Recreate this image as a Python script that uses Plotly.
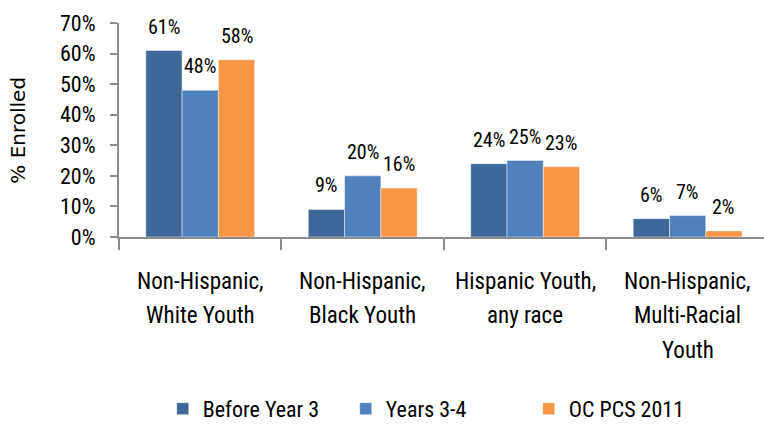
import plotly.graph_objects as go

# Enrollment share by race/ethnicity group
categories = [
    "Non-Hispanic, White Youth",
    "Non-Hispanic, Black Youth",
    "Hispanic Youth, any race",
    "Non-Hispanic, Multi-Racial Youth",
]
category_lines = [
    ["Non-Hispanic,", "White Youth"],
    ["Non-Hispanic,", "Black Youth"],
    ["Hispanic Youth,", "any race"],
    ["Non-Hispanic,", "Multi-Racial", "Youth"],
]
series_names = ["Before Year 3", "Years 3-4", "OC PCS 2011"]
before_year_3 = [0.61, 0.09, 0.24, 0.06]
years_3_4 = [0.48, 0.20, 0.25, 0.07]
oc_pcs_2011 = [0.58, 0.16, 0.23, 0.02]
series_values = [before_year_3, years_3_4, oc_pcs_2011]
colors = ["#3F6899", "#4F81BD", "#F79646"]
y_ticks = [0, 0.1, 0.2, 0.3, 0.4, 0.5, 0.6, 0.7]

NARROW = "Liberation Sans Narrow, Arial Narrow, Roboto Condensed, sans-serif"
BAR_GAP = 0.33
AXIS_GRAY = "#8C8C8C"

fig = go.Figure()
for name, vals, col in zip(series_names, series_values, colors):
    fig.add_trace(go.Bar(
        x=categories, y=vals, name=name,
        marker=dict(color=col, line=dict(color="rgba(255,255,255,0.45)", width=1)),
    ))

annotations = []
# value labels above each bar, offset to the bar's slot within its group
n = len(series_values)
slot = (1 - BAR_GAP) / n
for s, vals in enumerate(series_values):
    for i, v in enumerate(vals):
        annotations.append(dict(
            x=i + (s - (n - 1) / 2) * slot, y=v, xref="x", yref="y",
            text=f"{round(v * 100)}%", showarrow=False,
            yanchor="middle", yshift=24,
            font=dict(family=NARROW, size=20, color="#000000"),
        ))

# multi-line category labels under the axis
for i, lines in enumerate(category_lines):
    for k, line in enumerate(lines):
        annotations.append(dict(
            x=i, y=0, xref="x", yref="paper", text=line, showarrow=False,
            yanchor="middle", yshift=-44 - 34.5 * k,
            font=dict(family=NARROW, size=23, color="#000000"),
        ))

# rotated y-axis title
annotations.append(dict(
    x=-0.157, y=0.5, xref="paper", yref="paper", text="% Enrolled",
    showarrow=False, textangle=-90, xanchor="center", yanchor="middle",
    font=dict(family="DejaVu Sans", size=20, color="#000000"),
))

fig.update_layout(
    width=764, height=425,
    margin=dict(l=119, r=0, t=23, b=188, autoexpand=False),
    paper_bgcolor="white", plot_bgcolor="white",
    barmode="group", bargap=BAR_GAP, bargroupgap=0,
    showlegend=True,
    legend=dict(
        orientation="h", xref="container", x=0.213, xanchor="left",
        yref="container", y=0.038, yanchor="middle",
        font=dict(family=NARROW, size=22, color="#000000"),
        itemwidth=30, entrywidth=138, entrywidthmode="pixels",
        traceorder="normal",
    ),
    annotations=annotations,
    xaxis=dict(
        type="category", range=[-0.5, 3.47],
        showticklabels=False, showgrid=False, zeroline=False,
        showline=True, linecolor=AXIS_GRAY, linewidth=2,
        ticks="outside", tickson="boundaries", ticklen=11,
        tickcolor=AXIS_GRAY, tickwidth=2,
    ),
    yaxis=dict(
        range=[0, 0.7], tickvals=y_ticks, tickformat=".0%",
        showgrid=False, zeroline=False,
        showline=True, linecolor=AXIS_GRAY, linewidth=2,
        ticks="outside", ticklen=7, tickcolor=AXIS_GRAY, tickwidth=2,
        ticklabelstandoff=10,
        tickfont=dict(family=NARROW, size=22, color="#000000"),
    ),
)

fig.write_html("out.html")
